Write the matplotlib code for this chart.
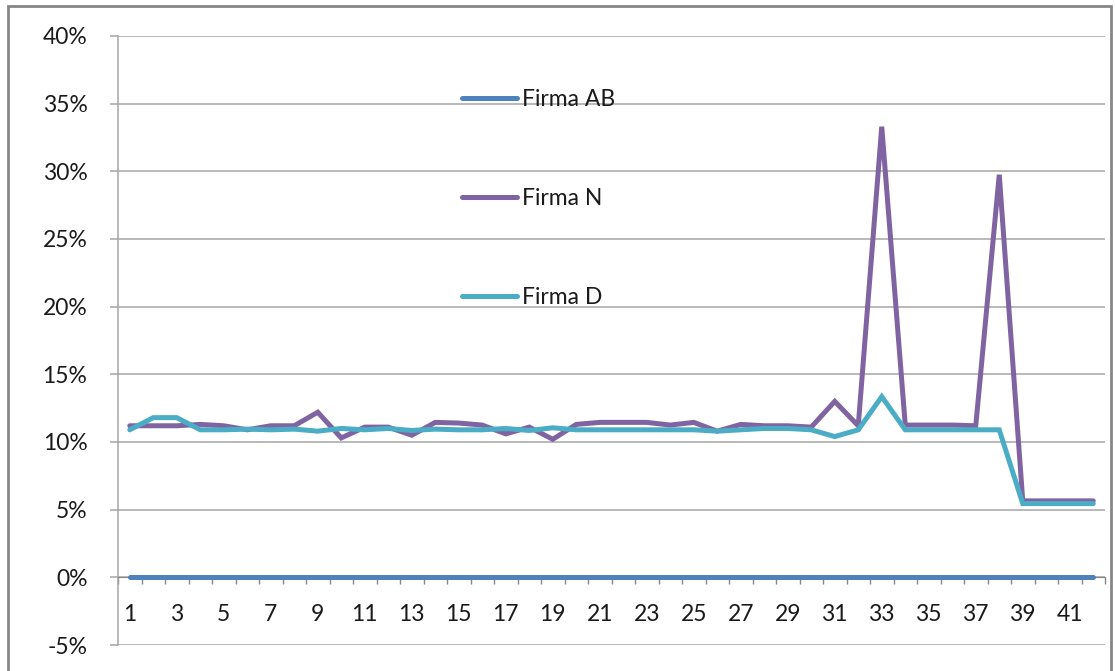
import numpy as np
import matplotlib.pyplot as plt
from matplotlib.patches import Rectangle
from matplotlib.ticker import FixedLocator, PercentFormatter

plt.rcParams['font.family'] = ['Lato', 'DejaVu Sans']
plt.rcParams['axes.unicode_minus'] = False

# period numbers 1..42
periods = list(range(1, 43))

firma_ab = [0.0] * 42
firma_n = [11.2, 11.2, 11.2, 11.3, 11.2, 10.9, 11.2, 11.2, 12.2, 10.3,
           11.1, 11.1, 10.5, 11.45, 11.4, 11.25, 10.6, 11.1, 10.2, 11.3,
           11.45, 11.45, 11.45, 11.25, 11.45, 10.8, 11.3, 11.2, 11.2, 11.1,
           13.0, 11.2, 33.3, 11.25, 11.25, 11.25, 11.2, 29.75, 5.65, 5.65,
           5.65, 5.65]
firma_d = [10.9, 11.8, 11.8, 10.9, 10.9, 10.95, 10.9, 10.95, 10.8, 11.0,
           10.9, 11.0, 10.85, 10.95, 10.9, 10.9, 11.0, 10.85, 11.05, 10.9,
           10.9, 10.9, 10.9, 10.9, 10.9, 10.8, 10.9, 11.0, 11.0, 10.9,
           10.4, 10.9, 13.35, 10.9, 10.9, 10.9, 10.9, 10.9, 5.45, 5.45,
           5.45, 5.45]

series_names = ['Firma AB', 'Firma N', 'Firma D']
colors = ['#4F81BD', '#8064A2', '#4BACC6']

W, H = 1115, 671
fig = plt.figure(figsize=(W / 100, H / 100), dpi=100)
ax = fig.add_axes([118 / W, 1 - 645 / H, (1105 - 118) / W, (645 - 36) / H])

for vals, name, col in zip([firma_ab, firma_n, firma_d], series_names, colors):
    ax.plot(periods, np.array(vals) / 100, color=col, lw=3.6, label=name,
            solid_capstyle='round', solid_joinstyle='miter', zorder=3)

ax.set_xlim(0.5, 42.5)
ax.set_ylim(-0.05, 0.40)
ax.set_yticks(np.arange(-0.05, 0.401, 0.05))
ax.yaxis.set_major_formatter(PercentFormatter(1.0, decimals=0))
ax.grid(axis='y', color='#A6A6A6', lw=1.1)
ax.set_axisbelow(True)

# category boundaries get the tick marks, odd categories get the labels
ax.xaxis.set_major_locator(FixedLocator(np.arange(0.5, 43, 1)))
ax.xaxis.set_major_formatter(plt.NullFormatter())
ax.set_xticks(periods[::2], [str(p) for p in periods[::2]], minor=True)
ax.tick_params(axis='x', which='major', direction='out', length=5,
               color='#868686', width=1)
ax.tick_params(axis='x', which='minor', length=0, pad=19,
               labelsize=16.5, labelcolor='#1a1a1a')
ax.tick_params(axis='y', direction='out', length=6, color='#A6A6A6',
               width=1.1, pad=16, labelsize=16.5, labelcolor='#1a1a1a')

for s in ['top', 'right']:
    ax.spines[s].set_visible(False)
ax.spines['bottom'].set_position(('data', 0))
ax.spines['bottom'].set_color('#868686')
ax.spines['left'].set_color('#A6A6A6')
ax.spines['left'].set_linewidth(1.1)

leg = ax.legend(loc='upper left', bbox_to_anchor=(462 / W, 1 - 89 / H),
                bbox_transform=fig.transFigure, frameon=False, fontsize=16.5,
                handlelength=2.4, handletextpad=0.2, labelspacing=3.4,
                borderpad=0, borderaxespad=0)
for t in leg.get_texts():
    t.set_color('#1a1a1a')

# chart area border
fig.patches.append(Rectangle((8 / W, -0.05), (1111 - 8) / W, 1.05 - 6 / H,
                             transform=fig.transFigure, fill=False,
                             edgecolor='#868686', lw=2))

fig.savefig('out.png', dpi=100)
